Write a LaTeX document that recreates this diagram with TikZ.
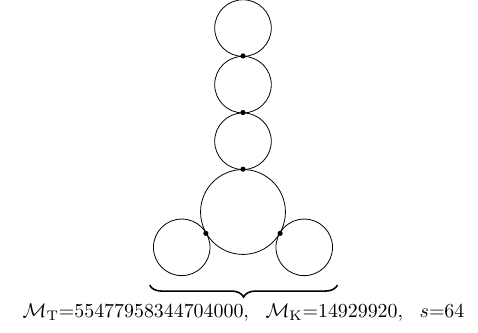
\documentclass[tikz,border=0pt]{standalone}
\usetikzlibrary{calc, decorations.pathreplacing}
\tikzset{
  ring/.style={circle, draw, thin, inner sep=0pt, minimum size=1cm},
  hub/.style={ring, minimum size=1.5cm},
  touch/.style={circle, fill, inner sep=0pt, minimum size=2.6pt},
  brc/.style={decorate, decoration={brace, amplitude=6pt, mirror}, thick},
  mlab/.style={inner sep=0pt}
}
\begin{document}
\begin{tikzpicture}
	\useasboundingbox (-4.294,-2.138) rectangle (4.153,3.746);
	\node[hub] (h) at (0,0) {};
	\node[ring] (r1) at (0,1.25) {};
	\node[ring] (r2) at (0,2.25) {};
	\node[ring] (r3) at (0,3.25) {};
	\node[ring] (lf) at (210:1.25) {};
	\node[ring] (rt) at (-30:1.25) {};
	\node[touch] (t1) at (h.north) {};
	\node[touch] (t2) at (r1.north) {};
	\node[touch] (t3) at (r2.north) {};
	\node[touch] (t4) at (h.210) {};
	\node[touch] (t5) at (h.-30) {};
	\coordinate (bl) at ($(lf.west |- lf.south)+(-0.06,-0.16)$);
	\coordinate (br) at ($(rt.east |- rt.south)+(0.08,-0.16)$);
	\draw[brc] (bl) -- node[mlab, below=0.32cm] {$\mathcal{M}_{\mathrm{T}}{=}55477958344704000,\ \ \mathcal{M}_{\mathrm{K}}{=}14929920,\ \ s{=}64$} (br);
\end{tikzpicture}
\end{document}
